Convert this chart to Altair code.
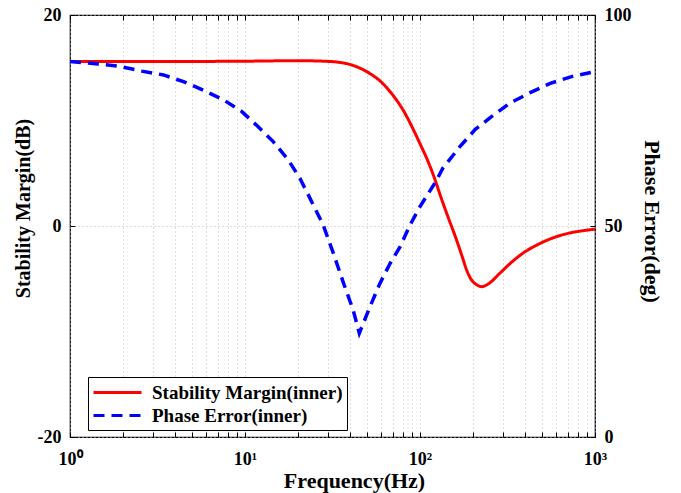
import altair as alt
import pandas as pd

# ---- data ----
red_freq = [1, 2, 5, 10, 20, 30, 40, 50, 60, 70, 80, 90, 100, 110, 120, 130, 145,
            160, 175, 185, 195, 210, 225, 245, 285, 330, 400, 450, 550, 700, 850, 1000]
red_db = [15.6, 15.6, 15.6, 15.62, 15.67, 15.6, 15.3, 14.6, 13.65, 12.4, 11.0, 9.4,
          7.8, 6.3, 4.7, 3.0, 0.8, -1.1, -3.0, -4.2, -5.0, -5.55, -5.75, -5.5, -4.5,
          -3.5, -2.42, -1.93, -1.25, -0.7, -0.45, -0.3]

blue_freq = [1, 1.45, 1.93, 2.57, 3.42, 4.45, 5.78, 7.53, 9.6, 11.9, 14.5, 17.7, 20.6,
             23.3, 28, 32, 36.6, 41.5, 45, 51.8, 59, 67.4, 77, 87.6, 100, 123, 135,
             169, 207, 256, 326, 426, 555, 735, 1000]
blue_deg = [89.0, 88.4, 87.8, 86.7, 85.8, 84.2, 82.2, 79.9, 77.1, 73.5, 70.0, 65.6,
            61.3, 56.9, 50.2, 43.5, 36.4, 30.1, 24.6, 30.9, 36.4, 41.1, 45.1, 50.2,
            54.6, 60.5, 63.7, 68.8, 72.9, 75.9, 79.1, 81.6, 83.8, 85.4, 86.6]

series_names = ["Stability Margin(inner)", "Phase Error(inner)"]
series_colors = ["#ff0000", "#0000ff"]
series_dashes = [[1, 0], [11, 7]]

x_ticks = [m * d for d in (1, 10, 100) for m in range(1, 10)] + [1000]
x_major = [1, 10, 100, 1000]
x_major_labels = ["10\u2070", "10\u00b9", "10\u00b2", "10\u00b3"]
left_ticks = [-20, 0, 20]
right_ticks = [0, 50, 100]
left_domain = [-20, 20]
right_domain = [0, 100]

red_df = pd.DataFrame({"freq": red_freq, "value": red_db, "series": series_names[0]})
blue_df = pd.DataFrame({"freq": blue_freq, "value": blue_deg, "series": series_names[1]})

FONT = "Liberation Serif"
label_expr = " : ".join(
    f"datum.value == {v} ? '{t}'" for v, t in zip(x_major, x_major_labels)
) + " : ''"

xscale = alt.Scale(type="log", domain=[1, 1000], nice=False)

legend = alt.Legend(
    title=None, orient="none", legendX=18, legendY=362, direction="vertical",
    strokeColor="black", fillColor="white", padding=4, rowPadding=1,
    symbolType="M-2.4,0H2.4", symbolSize=400, symbolStrokeWidth=3, symbolOffset=14,
    labelFont=FONT, labelFontSize=19, labelFontWeight="bold", labelColor="black",
    labelOffset=23, labelLimit=400, cornerRadius=0,
)
color = alt.Color("series:N", scale=alt.Scale(domain=series_names, range=series_colors), legend=legend)
dash = alt.StrokeDash("series:N", scale=alt.Scale(domain=series_names, range=series_dashes), legend=legend)

common_axis = dict(labelFont=FONT, labelFontSize=18, labelFontWeight="bold", labelColor="black",
                   titleFont=FONT, titleFontWeight="bold", titleColor="black",
                   tickColor="black")

# grid-only layer
grid_layer = alt.Chart(red_df).mark_line(opacity=0).encode(
    x=alt.X("freq:Q", scale=xscale,
            axis=alt.Axis(orient="bottom", offset=0, values=x_ticks, grid=True, gridDash=[1, 3],
                          gridColor="#bdbdbd", labels=False, ticks=False, domain=False, title=None)),
    y=alt.Y("value:Q", scale=alt.Scale(domain=left_domain, nice=False),
            axis=alt.Axis(orient="left", offset=0, values=left_ticks, grid=True, gridDash=[1, 3],
                          gridColor="#bdbdbd", labels=False, ticks=False, domain=False, title=None)),
)

red_layer = alt.Chart(red_df).mark_line(strokeWidth=3, interpolate="monotone").encode(
    x=alt.X("freq:Q", scale=xscale,
            axis=alt.Axis(orient="bottom", offset=-5, values=x_ticks, labelExpr=label_expr,
                          labelFlush=False, labelOverlap=False, grid=False, domain=False,
                          tickSize=5, labelPadding=13, title="Frequency(Hz)",
                          titleFontSize=22, titleX=284, titleY=55, titleBaseline="alphabetic",
                          titleAlign="center", **common_axis)),
    y=alt.Y("value:Q", scale=alt.Scale(domain=left_domain, nice=False),
            axis=alt.Axis(orient="left", offset=-5, values=left_ticks, grid=False, domain=False,
                          labelExpr="'' + datum.value",
                          tickSize=5, labelPadding=9, title="Stability Margin(dB)",
                          titleFontSize=20, titlePadding=4, titleY=193, **common_axis)),
    color=color,
    strokeDash=dash,
)

blue_layer = alt.Chart(blue_df).mark_line(strokeWidth=3.5, interpolate="linear").encode(
    x=alt.X("freq:Q", scale=xscale,
            axis=alt.Axis(orient="top", offset=-5, values=x_ticks, labels=False, grid=False,
                          domain=False, tickSize=5, title=None, tickColor="black")),
    y=alt.Y("value:Q", scale=alt.Scale(domain=right_domain, nice=False),
            axis=alt.Axis(orient="right", offset=-5, values=right_ticks, grid=False, domain=False,
                          labelExpr="'' + datum.value",
                          tickSize=5, labelPadding=9, title="Phase Error(deg)",
                          titleFontSize=22, titlePadding=8, titleY=206, **common_axis)),
    color=color,
    strokeDash=dash,
)

chart = alt.layer(grid_layer, red_layer, blue_layer).resolve_scale(
    y="independent"
).resolve_axis(
    x="independent", y="independent"
).properties(
    width=525, height=422,
    autosize=alt.AutoSizeParams(type="none"),
    padding={"left": 70, "top": 15, "right": 86, "bottom": 56},
    background="white",
).configure_view(stroke="black", strokeWidth=1.2)

chart.save("out.html", embed_options={"renderer": "svg", "actions": False})
